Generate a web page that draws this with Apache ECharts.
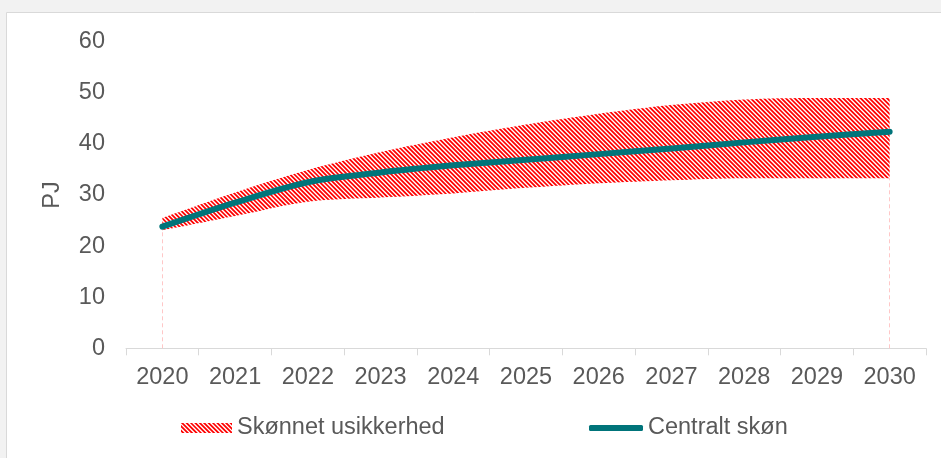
<!DOCTYPE html>
<html>
<head>
<meta charset="utf-8">
<script src="https://cdn.jsdelivr.net/npm/echarts@6/dist/echarts.min.js"></script>
<style>
html,body{margin:0;padding:0;background:#f2f2f2;}
#c{width:941px;height:458px;}
</style>
</head>
<body>
<div id="c"></div>
<script>
const years = ['2020','2021','2022','2023','2024','2025','2026','2027','2028','2029','2030'];
const central = [23.8, 28.5, 32.5, 34.4, 35.8, 36.9, 38.0, 39.1, 40.3, 41.4, 42.4];
const lowerBound = [23.1, 25.9, 28.7, 29.5, 30.3, 31.4, 32.3, 32.9, 33.3, 33.3, 33.3];
const upperBound = [25.5, 30.5, 34.9, 38.4, 41.3, 43.8, 45.9, 47.6, 48.7, 49.0, 49.0];
const yTicks = [0, 10, 20, 30, 40, 50, 60];

const bandWidth = upperBound.map((u, i) => +(u - lowerBound[i]).toFixed(2));

function makePattern() {
  const size = 22, period = 4.4, S = 4;
  const c = document.createElement('canvas');
  c.width = size; c.height = size;
  const ctx = c.getContext('2d');
  const img = ctx.createImageData(size, size);
  for (let y = 0; y < size; y++) {
    for (let x = 0; x < size; x++) {
      let cov = 0;
      for (let sy = 0; sy < S; sy++) {
        for (let sx = 0; sx < S; sx++) {
          const px = x + (sx + 0.5) / S, py = y + (sy + 0.5) / S;
          let t = ((px - py) % period + period) % period;
          if (t < period * 0.55) cov++;
        }
      }
      const f = cov / (S * S);
      const i = (y * size + x) * 4;
      img.data[i] = 255;
      img.data[i + 1] = Math.round(255 * (1 - f));
      img.data[i + 2] = Math.round(255 * (1 - f));
      img.data[i + 3] = 255;
    }
  }
  ctx.putImageData(img, 0, 0);
  return { image: c, repeat: 'repeat' };
}
const pattern = makePattern();
const font = "'Liberation Sans', Arial, sans-serif";
const txt = '#595959';
const teal = '#00747a';
const fs = 23.5;

const chart = echarts.init(document.getElementById('c'), null, { renderer: 'canvas' });
chart.setOption({
  backgroundColor: '#f2f2f2',
  animation: false,
  textStyle: { fontFamily: font },
  graphic: [{
    type: 'rect', z: -10, silent: true,
    shape: { x: 6.5, y: 12.5, width: 960, height: 480 },
    style: { fill: '#ffffff', stroke: '#d9d9d9', lineWidth: 1 }
  }],
  grid: { left: 126, right: 15, top: 41.7, bottom: 109.7, containLabel: false },
  legend: [{
    left: 181, top: 416, padding: 0,
    itemWidth: 51, itemHeight: 10, itemGap: 0,
    textStyle: { color: txt, fontSize: fs, fontFamily: font },
    data: [{ name: 'Skønnet usikkerhed', icon: 'rect', itemStyle: { color: pattern, borderWidth: 0 } }]
  }, {
    left: 589, top: 416, padding: 0,
    itemWidth: 54, itemHeight: 6, itemGap: 0,
    textStyle: { color: txt, fontSize: fs, fontFamily: font },
    data: [{ name: 'Centralt skøn', icon: 'roundRect', itemStyle: { color: teal, borderWidth: 0 } }]
  }],
  xAxis: {
    type: 'category',
    data: years,
    boundaryGap: true,
    axisLine: { show: true, lineStyle: { color: '#d9d9d9', width: 1 } },
    axisTick: { show: true, length: 7, inside: false, lineStyle: { color: '#d9d9d9' } },
    axisLabel: { color: txt, fontSize: fs, margin: 17, fontFamily: font, interval: 0 },
    splitLine: { show: false }
  },
  yAxis: {
    type: 'value',
    min: yTicks[0], max: yTicks[yTicks.length - 1], interval: 10,
    name: 'PJ', nameLocation: 'middle', nameGap: 61, nameRotate: 90,
    nameTextStyle: { color: txt, fontSize: fs, fontFamily: font },
    axisLine: { show: false },
    axisTick: { show: false },
    splitLine: { show: false },
    axisLabel: { color: txt, fontSize: fs, margin: 21, fontFamily: font }
  },
  series: [{
    name: 'lower',
    type: 'line',
    stack: 'band',
    data: lowerBound,
    smooth: 0.3,
    symbol: 'none',
    lineStyle: { opacity: 0, width: 0 },
    silent: true,
    z: 2
  }, {
    name: 'Skønnet usikkerhed',
    type: 'line',
    stack: 'band',
    data: bandWidth,
    smooth: 0.3,
    symbol: 'none',
    lineStyle: { opacity: 0, width: 0 },
    areaStyle: { color: pattern, opacity: 1 },
    itemStyle: { color: pattern },
    silent: true,
    z: 2
  }, {
    name: 'Centralt skøn',
    type: 'line',
    data: central,
    smooth: 0.3,
    symbol: 'none',
    lineStyle: { color: teal, width: 6, cap: 'round', join: 'round' },
    itemStyle: { color: teal },
    z: 3,
    markLine: {
      silent: true,
      symbol: ['none', 'none'],
      label: { show: false },
      lineStyle: { color: '#ffc7c7', type: [4, 3], width: 1 },
      data: [
        [{ coord: [years[0], 0] }, { coord: [years[0], lowerBound[0]] }],
        [{ coord: [years[years.length - 1], 0] }, { coord: [years[years.length - 1], lowerBound[lowerBound.length - 1]] }]
      ]
    }
  }]
});
</script>
</body>
</html>
